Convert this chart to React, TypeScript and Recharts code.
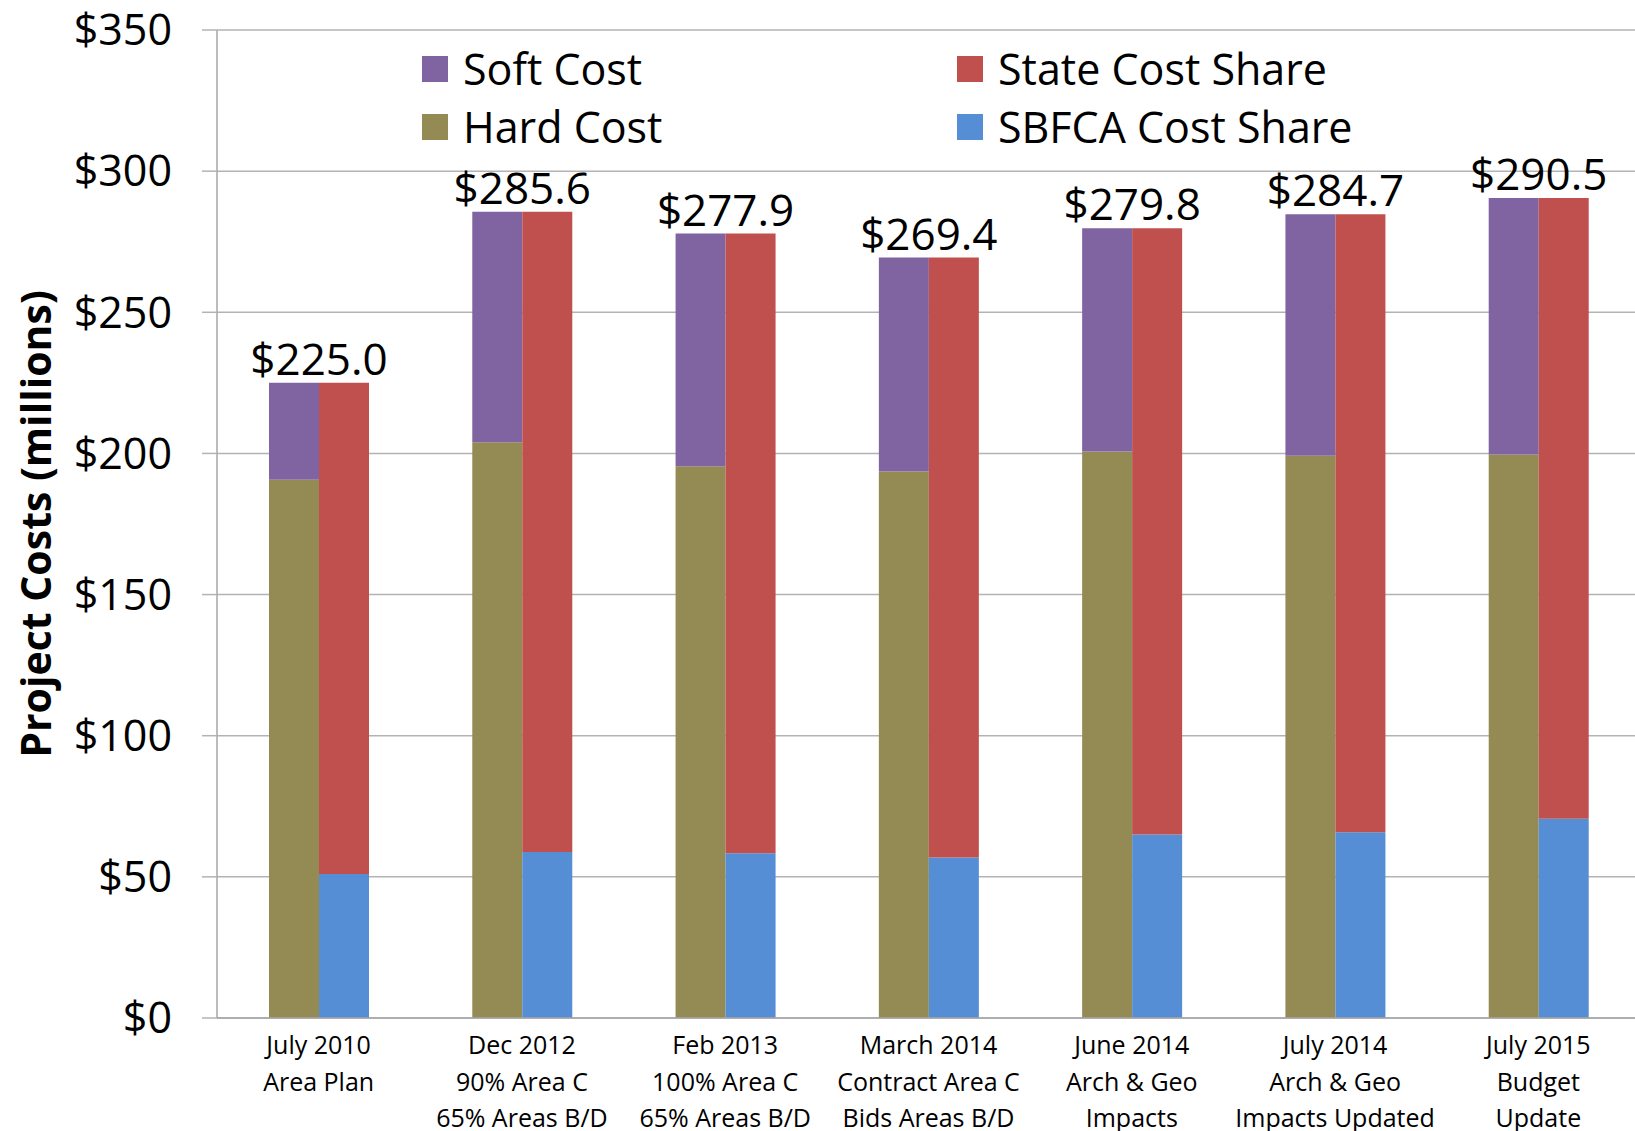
import { BarChart, Bar, XAxis, YAxis, CartesianGrid, LabelList } from 'recharts'

const categories = [
  'July 2010\nArea Plan',
  'Dec 2012\n90% Area C\n65% Areas B/D',
  'Feb 2013\n100% Area C\n65% Areas B/D',
  'March 2014\nContract Area C\nBids Areas B/D',
  'June 2014\nArch & Geo\nImpacts',
  'July 2014\nArch & Geo\nImpacts Updated',
  'July 2015\nBudget\nUpdate',
]
const totals = [225.0, 285.6, 277.9, 269.4, 279.8, 284.7, 290.5]
const hardCost = [190.7, 204.0, 195.5, 193.6, 200.7, 199.2, 199.6]
const sbfcaShare = [51.0, 58.8, 58.4, 56.9, 65.0, 65.8, 70.6]
const yTicks = [0, 50, 100, 150, 200, 250, 300, 350]

const data = categories.map((name, i) => ({
  name,
  total: totals[i],
  hard: hardCost[i],
  soft: +(totals[i] - hardCost[i]).toFixed(1),
  sbfca: sbfcaShare[i],
  state: +(totals[i] - sbfcaShare[i]).toFixed(1),
}))

const colors = {
  soft: '#8064A2',
  hard: '#948A54',
  state: '#C0504D',
  sbfca: '#558ED5',
}

const legendItems = [
  { label: 'Soft Cost', color: colors.soft, x: 422, y: 55 },
  { label: 'Hard Cost', color: colors.hard, x: 422, y: 113 },
  { label: 'State Cost Share', color: colors.state, x: 957, y: 55 },
  { label: 'SBFCA Cost Share', color: colors.sbfca, x: 957, y: 113 },
]

const FONT = '"Open Sans", sans-serif'

const CategoryTick = ({ x, y, payload }: any) => {
  const lines = String(payload.value).split('\n')
  return (
    <text x={x} y={y} textAnchor="middle" fontFamily={FONT} fontSize={25} fill="#000">
      {lines.map((line, i) => (
        <tspan key={i} x={x} dy={i === 0 ? 28 : 36.5}>{line}</tspan>
      ))}
    </text>
  )
}

const TotalLabel = (props: any) => {
  const { x, y, width, value } = props
  return (
    <text x={x + width} y={y - 8} textAnchor="middle" fontFamily={FONT} fontSize={44} fill="#000">
      ${Number(value).toFixed(1)}
    </text>
  )
}

const AxisTitle = ({ viewBox }: any) => {
  const cy = viewBox.y + viewBox.height / 2
  return (
    <text x={35} y={cy} transform={`rotate(-90, 35, ${cy})`} textAnchor="middle" dominantBaseline="central"
      fontFamily={FONT} fontWeight={700} fontSize={41} fill="#000">
      Project Costs (millions)
    </text>
  )
}

export default function App() {
  return (
    <div style={{ position: 'absolute', left: 0, top: 0, width: 1635, height: 1131, overflow: 'hidden', background: '#fff' }}>
      <BarChart width={1660} height={1131} data={data} margin={{ top: 30, right: 20, left: 0, bottom: 0 }}
        barGap={0} barSize={50}>
        <CartesianGrid vertical={false} stroke="#b3b3b3" strokeWidth={1.5} />
        <XAxis dataKey="name" height={113} tick={<CategoryTick />} tickLine={false} interval={0}
          axisLine={{ stroke: '#a6a6a6', strokeWidth: 1.5 }} />
        <YAxis width={217} domain={[0, 350]} ticks={yTicks} tickSize={15} tickMargin={30}
          tickFormatter={(v) => `$${v}`}
          tick={{ fontFamily: FONT, fontSize: 43, fill: '#000' }}
          axisLine={{ stroke: '#a6a6a6', strokeWidth: 1.5 }}
          tickLine={{ stroke: '#b3b3b3', strokeWidth: 1.5 }}
          label={<AxisTitle />} />
        <Bar dataKey="hard" stackId="a" fill={colors.hard} isAnimationActive={false} />
        <Bar dataKey="soft" stackId="a" fill={colors.soft} isAnimationActive={false}>
          <LabelList dataKey="total" content={<TotalLabel />} />
        </Bar>
        <Bar dataKey="sbfca" stackId="b" fill={colors.sbfca} isAnimationActive={false} />
        <Bar dataKey="state" stackId="b" fill={colors.state} isAnimationActive={false} />
      </BarChart>
      {/* Legend */}
      {legendItems.map((item) => (
        <div key={item.label} style={{ position: 'absolute', left: item.x, top: item.y, display: 'flex', alignItems: 'center', height: 28 }}>
          <div style={{ width: 26, height: 26, background: item.color }} />
          <span style={{ marginLeft: 15, fontFamily: FONT, fontSize: 43, color: '#000', lineHeight: '28px', whiteSpace: 'nowrap' }}>
            {item.label}
          </span>
        </div>
      ))}
    </div>
  )
}
